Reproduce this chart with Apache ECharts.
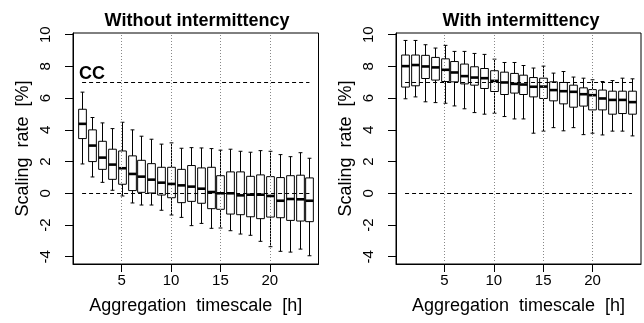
<!DOCTYPE html>
<html>
<head>
<meta charset="utf-8">
<script src="https://cdn.jsdelivr.net/npm/echarts@6/dist/echarts.min.js"></script>
<style>html,body{margin:0;padding:0;background:#fff}#c{width:644px;height:323px}</style>
</head>
<body>
<div id="c"></div>
<script>
// Aggregation timescales [h]
const hours = [1,2,3,4,5,6,7,8,9,10,11,12,13,14,15,16,17,18,19,20,21,22,23,24];

// Without intermittency: whisker low, Q1, median, Q3, whisker high
const woLow  = [1.85,1.03,0.69,0.19,-0.17,-0.61,-0.74,-0.74,-1.07,-1.37,-1.52,-2.04,-1.90,-2.21,-2.19,-2.36,-2.57,-2.65,-3.03,-3.37,-3.66,-3.71,-3.52,-3.94];
const woQ1   = [3.45,2.00,1.51,0.88,0.57,0.17,0.06,0.02,-0.11,-0.28,-0.59,-0.51,-0.63,-0.97,-1.01,-1.31,-1.35,-1.48,-1.60,-1.50,-1.54,-1.71,-1.75,-1.79];
const woMed  = [4.38,3.01,2.25,1.81,1.58,1.22,1.05,0.86,0.67,0.59,0.50,0.42,0.29,0.08,0.00,0.00,-0.13,-0.09,-0.09,-0.17,-0.47,-0.36,-0.38,-0.47];
const woQ3   = [5.30,4.00,3.28,2.78,2.67,2.36,2.08,1.87,1.64,1.64,1.51,1.75,1.60,1.64,1.11,1.35,1.35,1.07,1.16,1.05,0.99,1.11,1.14,0.97];
const woHigh = [6.38,4.78,4.44,4.08,4.48,4.00,3.60,3.41,3.10,3.18,2.84,2.88,2.86,2.82,2.72,2.78,2.65,2.59,2.69,2.65,2.44,2.31,2.56,2.21];

// With intermittency
const wiLow  = [5.96,6.08,5.77,5.72,5.68,5.51,5.33,5.09,4.99,5.05,4.84,4.69,4.69,3.79,3.92,4.14,3.94,4.14,3.70,3.79,3.68,3.92,3.92,3.62];
const wiQ1   = [6.70,6.78,7.24,7.14,7.05,7.03,6.90,6.82,6.61,6.42,6.23,6.32,6.23,6.08,5.98,5.83,5.64,5.43,5.50,5.26,5.26,4.99,5.03,4.99];
const wiMed  = [8.02,8.09,8.00,7.94,7.79,7.62,7.39,7.30,7.26,7.09,6.99,6.90,6.86,6.72,6.73,6.51,6.44,6.40,6.25,6.19,5.98,5.89,5.89,5.75];
const wiQ3   = [8.72,8.72,8.70,8.57,8.48,8.31,8.15,7.98,7.87,7.73,7.64,7.56,7.45,7.30,7.26,7.03,6.99,6.82,6.65,6.54,6.51,6.44,6.44,6.44];
const wiHigh = [9.64,9.64,9.37,9.16,9.33,8.95,8.95,8.82,8.76,8.46,8.25,8.25,8.06,7.90,8.02,7.58,7.68,7.33,7.26,7.16,7.05,7.11,7.26,7.22];

const xTicks = [5,10,15,20];
const yTicks = [-4,-2,0,2,4,6,8,10];
const refLevels = [0, 7];          // dashed horizontal reference lines
const refSpan = [1, 24];           // from first to last box
const panelTitles = ['Without intermittency', 'With intermittency'];
const xTitle = 'Aggregation  timescale  [h]';
const yTitle = 'Scaling  rate  [%]';
const ccLabel = 'CC';

function rows(lo, q1, med, q3, hi) {
  return hours.map((h, i) => [h, lo[i], q1[i], med[i], q3[i], hi[i]]);
}

const FONT = 'Liberation Sans';

function renderBox(params, api) {
  const x = api.value(0);
  const pLo = api.coord([x, api.value(1)]);
  const pQ1 = api.coord([x, api.value(2)]);
  const pMd = api.coord([x, api.value(3)]);
  const pQ3 = api.coord([x, api.value(4)]);
  const pHi = api.coord([x, api.value(5)]);
  const w = api.size([0.78, 0])[0];
  const cx = Math.round(pMd[0]) + 0.5;
  const st = {stroke: '#000', lineWidth: 1, fill: null};
  return {
    type: 'group',
    children: [
      {type: 'line', shape: {x1: cx, y1: pHi[1], x2: cx, y2: pQ3[1]}, style: st},
      {type: 'line', shape: {x1: cx, y1: pQ1[1], x2: cx, y2: pLo[1]}, style: st},
      {type: 'line', shape: {x1: cx - w / 4, y1: pHi[1], x2: cx + w / 4, y2: pHi[1]}, style: st},
      {type: 'line', shape: {x1: cx - w / 4, y1: pLo[1], x2: cx + w / 4, y2: pLo[1]}, style: st},
      {type: 'rect', shape: {x: cx - w / 2, y: pQ3[1], width: w, height: pQ1[1] - pQ3[1]}, style: {stroke: '#000', lineWidth: 1, fill: 'rgba(0,0,0,0)'}},
      {type: 'line', shape: {x1: cx - w / 2, y1: pMd[1], x2: cx + w / 2, y2: pMd[1]}, style: {stroke: '#000', lineWidth: 2.6}}
    ]
  };
}

function markLines() {
  const data = [];
  xTicks.forEach(v => data.push({xAxis: v, lineStyle: {type: [1, 2], color: '#888', width: 1}}));
  refLevels.forEach(v => data.push([{coord: [refSpan[0], v], lineStyle: {type: [4, 3], color: '#000', width: 1}}, {coord: [refSpan[1], v]}]));
  return {silent: true, symbol: 'none', label: {show: false}, data: data, animation: false};
}

function xAxis(i) {
  return {
    type: 'value', gridIndex: i, min: 0.08, max: 24.92,
    axisLine: {show: true, onZero: false, lineStyle: {color: '#000', width: 1}},
    axisTick: {show: true, customValues: xTicks, length: 8, lineStyle: {color: '#000'}},
    axisLabel: {customValues: xTicks, fontSize: 15, color: '#000', fontFamily: FONT, margin: 9},
    splitLine: {show: false},
    name: xTitle, nameLocation: 'middle', nameGap: 33,
    nameTextStyle: {fontSize: 18, color: '#000', fontFamily: FONT}
  };
}
function yAxis(i) {
  return {
    type: 'value', gridIndex: i, min: -4.46, max: 10.11,
    axisLine: {show: true, onZero: false, lineStyle: {color: '#000', width: 1}},
    axisTick: {show: true, customValues: yTicks, length: 8, lineStyle: {color: '#000'}},
    axisLabel: {customValues: yTicks, fontSize: 15, color: '#000', fontFamily: FONT, rotate: 90, margin: 20},
    splitLine: {show: false},
    name: yTitle, nameLocation: 'middle', nameGap: 41,
    nameTextStyle: {fontSize: 18, color: '#000', fontFamily: FONT}
  };
}

const chart = echarts.init(document.getElementById('c'), null, {renderer: 'canvas'});
chart.setOption({
  animation: false,
  backgroundColor: '#fff',
  title: [
    {text: panelTitles[0], left: 192, top: 7, textAlign: 'center', textStyle: {fontSize: 18, fontWeight: 'bold', color: '#000', fontFamily: FONT}},
    {text: panelTitles[1], left: 516, top: 7, textAlign: 'center', textStyle: {fontSize: 18, fontWeight: 'bold', color: '#000', fontFamily: FONT}}
  ],
  grid: [
    {left: 73, right: 325.5, top: 33, bottom: 59, show: true, borderColor: '#000', borderWidth: 1, containLabel: false},
    {left: 396, right: 3, top: 33, bottom: 59, show: true, borderColor: '#000', borderWidth: 1, containLabel: false}
  ],
  xAxis: [xAxis(0), xAxis(1)],
  yAxis: [yAxis(0), yAxis(1)],
  graphic: [
    {type: 'text', left: 79, top: 65, style: {text: ccLabel, fontSize: 18, fontWeight: 'bold', fill: '#000', fontFamily: FONT}}
  ],
  series: [
    {type: 'custom', name: panelTitles[0], xAxisIndex: 0, yAxisIndex: 0, renderItem: renderBox,
     encode: {x: 0, y: [1, 2, 3, 4, 5]}, data: rows(woLow, woQ1, woMed, woQ3, woHigh), markLine: markLines(), z: 2},
    {type: 'custom', name: panelTitles[1], xAxisIndex: 1, yAxisIndex: 1, renderItem: renderBox,
     encode: {x: 0, y: [1, 2, 3, 4, 5]}, data: rows(wiLow, wiQ1, wiMed, wiQ3, wiHigh), markLine: markLines(), z: 2}
  ]
});
</script>
</body>
</html>
